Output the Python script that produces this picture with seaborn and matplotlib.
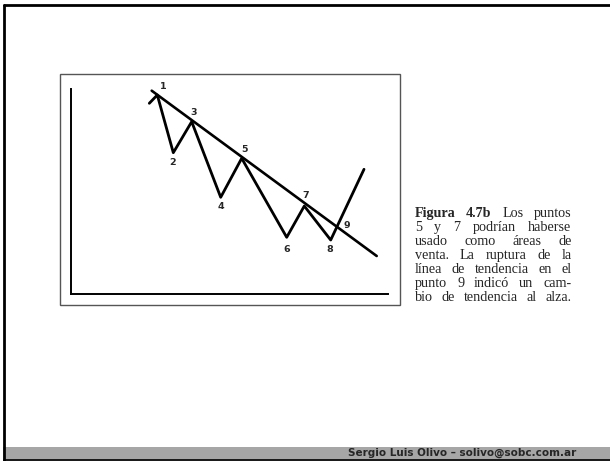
import matplotlib.pyplot as plt
import seaborn as sns
from matplotlib.patches import Rectangle

plt.switch_backend('Agg')
sns.set_style('white')

# Zigzag del precio (tiempo, precio) en unidades del grafico
t_precio = [78.3, 86.3, 102.3, 120.7, 149.7, 170.7, 215.7, 233.3, 259.7, 293.0]
precio = [190.7, 199.0, 141.3, 172.3, 96.7, 135.7, 56.7, 88.0, 54.0, 124.7]

# Linea de tendencia bajista
t_tend = [80.7, 305.7]
tend = [203.3, 38.0]

# Etiquetas de los puntos
puntos = ['1', '2', '3', '4', '5', '6', '7', '8', '9']
punto_x = [92.3, 101.7, 123.0, 149.7, 173.3, 215.7, 234.7, 258.3, 275.7]
punto_y = [207.3, 131.3, 181.3, 87.3, 145.0, 45.0, 99.0, 45.0, 68.3]

# Texto de la figura (justificado)
lineas = [
    'Figura 4.7b Los puntos',
    '5 y 7 podrían haberse',
    'usado como áreas de',
    'venta. La ruptura de la',
    'línea de tendencia en el',
    'punto 9 indicó un cam-',
    'bio de tendencia al alza.',
]
negritas = ['Figura', '4.7b']
pie = 'Sergio Luis Olivo – solivo@sobc.com.ar'

fig = plt.figure(figsize=(6.1, 4.61), dpi=100)

# Fondo de la diapositiva en coordenadas de pixel
fondo = fig.add_axes([0, 0, 1, 1])
fondo.set_xlim(0, 610)
fondo.set_ylim(461, 0)
fondo.axis('off')

fondo.add_patch(Rectangle((3, 447), 607, 14, color='#a6a6a6', lw=0))
fondo.plot([3.5, 610], [5.5, 5.5], color='black', lw=2)
fondo.plot([3.5, 3.5], [5.5, 461], color='black', lw=2)
fondo.plot([3.5, 610], [460, 460], color='black', lw=1.2)
fondo.add_patch(Rectangle((59.5, 74), 340.5, 231, fill=False, ec='#555555', lw=1))

fondo.text(576, 453, pie, ha='right', va='center', fontsize=7.5,
           fontweight='bold', family='DejaVu Sans')

# Texto justificado
fig.canvas.draw()
r = fig.canvas.get_renderer()
x_izq, x_der = 415, 571.5
y0, paso = 217.3, 13.9
for i, linea in enumerate(lineas):
    palabras = linea.split()
    textos = []
    for p in palabras:
        peso = 'bold' if (i == 0 and p in negritas) else 'normal'
        textos.append(fondo.text(x_izq, y0 + i * paso, p, fontsize=10.2,
                                 family='Liberation Serif', fontweight=peso,
                                 va='baseline', ha='left'))
    anchos = [t.get_window_extent(r).width for t in textos]
    hueco = (x_der - x_izq - sum(anchos)) / (len(textos) - 1)
    x = x_izq
    for t, a in zip(textos, anchos):
        t.set_x(x)
        x += a + hueco

# Grafico
ax = fig.add_axes([71 / 610, 1 - 294 / 461, 317 / 610, 205 / 461])
ax.patch.set_alpha(0)
sns.lineplot(x=t_precio, y=precio, sort=False, estimator=None, color='black',
             lw=2.0, ax=ax)
sns.lineplot(x=t_tend, y=tend, sort=False, estimator=None, color='black',
             lw=1.9, ax=ax)
for s, x, y in zip(puntos, punto_x, punto_y):
    ax.text(x, y, s, ha='center', va='center', fontsize=6.8, fontweight='bold')

ax.set_xlim(0, 317)
ax.set_ylim(0, 205)
ax.set_xticks([])
ax.set_yticks([])
sns.despine(ax=ax)
for lado in ['left', 'bottom']:
    ax.spines[lado].set_color('black')
    ax.spines[lado].set_linewidth(1.4)

fig.savefig('out.png', dpi=100)
